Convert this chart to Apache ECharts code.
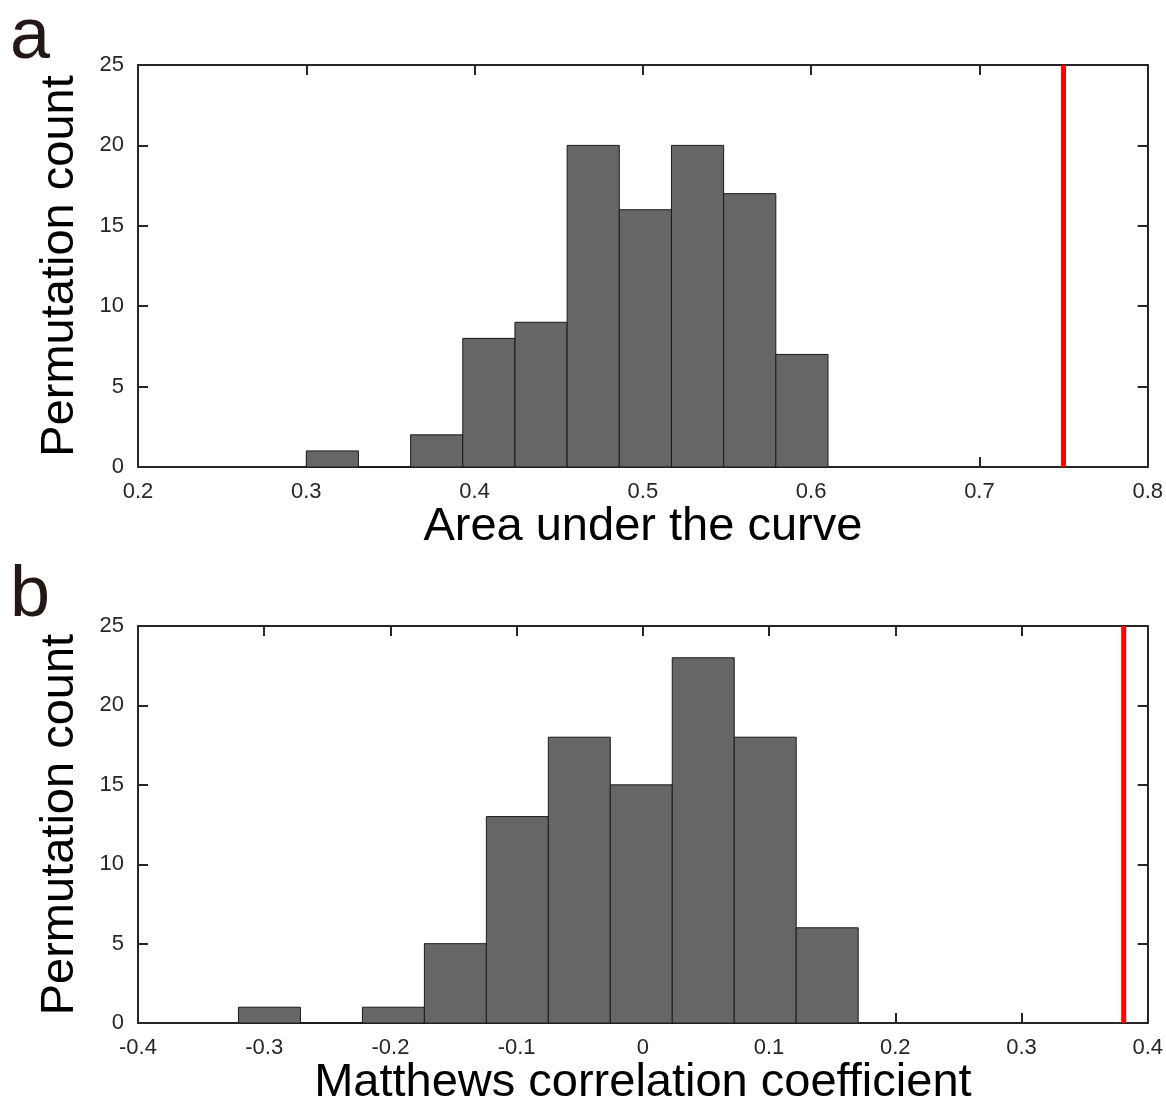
<!DOCTYPE html>
<html>
<head>
<meta charset="utf-8">
<script src="https://cdn.jsdelivr.net/npm/echarts@6/dist/echarts.min.js"></script>
<style>
  html, body { margin: 0; padding: 0; background: #fff; }
  #chart { width: 1166px; height: 1108px; }
</style>
</head>
<body>
<div id="chart"></div>
<script>
// panel a: AUC permutation histogram
const aucStart = 0.300
const aucWidth = 0.031
const aucCounts = [1, 0, 2, 8, 9, 20, 16, 20, 17, 7]
const aucObserved = 0.750
const aucTicks = [0.2, 0.8, 0.1]   // min, max, interval

// panel b: MCC permutation histogram
const mccStart = -0.3204
const mccWidth = 0.0491
const mccCounts = [1, 0, 1, 5, 13, 18, 15, 23, 18, 6]
const mccObserved = 0.381
const mccTicks = [-0.4, 0.4, 0.1]

const yTicks = [0, 25, 5]

const FONT = 'Liberation Sans, Arial, sans-serif'
const INK = '#262626'

// build [lo, hi, count] rows for the custom series
function bins(start, width, counts) {
  return counts.map((c, i) => [start + i * width, start + (i + 1) * width, c])
}

function renderBar(params, api) {
  const p0 = api.coord([api.value(0), api.value(2)])
  const p1 = api.coord([api.value(1), 0])
  return {
    type: 'rect',
    shape: { x: p0[0], y: p0[1], width: p1[0] - p0[0], height: p1[1] - p0[1] },
    style: { fill: '#666666', stroke: '#1a1a1a', lineWidth: 1 }
  }
}

const tickFmt = v => (Math.abs(v) < 1e-9 ? '0' : (+v.toFixed(1)).toString())

const lineStyle = { color: INK, width: 2 }

function xAxes(grid, t, name, gap) {
  return [
    {
      type: 'value', gridIndex: grid, position: 'bottom',
      min: t[0], max: t[1], interval: t[2],
      name: name, nameLocation: 'middle', nameGap: gap,
      nameTextStyle: { fontSize: 47, color: '#000', fontFamily: FONT },
      axisLine: { show: true, onZero: false, lineStyle },
      axisTick: { inside: true, length: 10, lineStyle },
      axisLabel: { margin: 14, fontSize: 22, color: INK, fontFamily: FONT, formatter: tickFmt },
      splitLine: { show: false }
    },
    {
      type: 'value', gridIndex: grid, position: 'top',
      min: t[0], max: t[1], interval: t[2],
      axisLine: { show: true, onZero: false, lineStyle },
      axisTick: { inside: true, length: 10, lineStyle },
      axisLabel: { show: false },
      splitLine: { show: false }
    }
  ]
}

function yAxes(grid) {
  return [
    {
      type: 'value', gridIndex: grid, position: 'left',
      min: yTicks[0], max: yTicks[1], interval: yTicks[2],
      name: 'Permutation count', nameLocation: 'middle', nameGap: 54,
      nameTextStyle: { fontSize: 47, color: '#000', fontFamily: FONT },
      axisLine: { show: true, onZero: false, lineStyle },
      axisTick: { inside: true, length: 10, lineStyle },
      axisLabel: { margin: 14, fontSize: 22, color: INK, fontFamily: FONT },
      splitLine: { show: false }
    },
    {
      type: 'value', gridIndex: grid, position: 'right',
      min: yTicks[0], max: yTicks[1], interval: yTicks[2],
      axisLine: { show: true, onZero: false, lineStyle },
      axisTick: { inside: true, length: 10, lineStyle },
      axisLabel: { show: false },
      splitLine: { show: false }
    }
  ]
}

function observedLine(xi, yi, v) {
  return {
    type: 'line', xAxisIndex: xi, yAxisIndex: yi,
    data: [[v, yTicks[0]], [v, yTicks[1]]],
    symbol: 'none', silent: true, z: 5,
    lineStyle: { color: '#ff0000', width: 5 }
  }
}

const chart = echarts.init(document.getElementById('chart'))
chart.setOption({
  animation: false,
  backgroundColor: '#fff',
  graphic: [
    { type: 'text', left: 10, top: 2, style: { text: 'a', fontSize: 72, fontFamily: FONT, fill: '#231815' } },
    { type: 'text', left: 10, top: 560, style: { text: 'b', fontSize: 72, fontFamily: FONT, fill: '#231815' } }
  ],
  grid: [
    { left: 138, right: 15, top: 65, bottom: 641 },
    { left: 138, right: 15, top: 626, bottom: 81 }
  ],
  xAxis: [
    ...xAxes(0, aucTicks, 'Area under the curve', 31),
    ...xAxes(1, mccTicks, 'Matthews correlation coefficient', 35)
  ],
  yAxis: [...yAxes(0), ...yAxes(1)],
  series: [
    {
      type: 'custom', xAxisIndex: 0, yAxisIndex: 0,
      renderItem: renderBar, encode: { x: [0, 1], y: 2 },
      data: bins(aucStart, aucWidth, aucCounts)
    },
    observedLine(0, 0, aucObserved),
    {
      type: 'custom', xAxisIndex: 2, yAxisIndex: 2,
      renderItem: renderBar, encode: { x: [0, 1], y: 2 },
      data: bins(mccStart, mccWidth, mccCounts)
    },
    observedLine(2, 2, mccObserved)
  ]
})
</script>
</body>
</html>
